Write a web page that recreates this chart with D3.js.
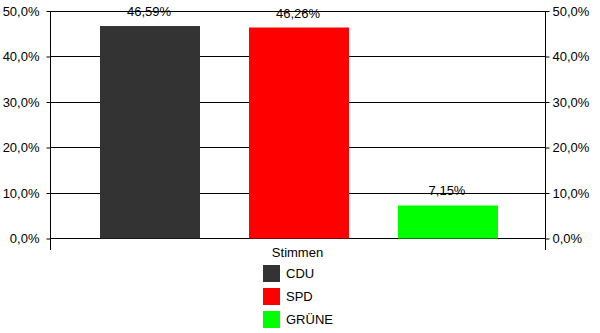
<!DOCTYPE html>
<html>
<head>
<meta charset="utf-8">
<script src="https://cdn.jsdelivr.net/npm/d3@7"></script>
<style>
html,body{margin:0;padding:0;background:#fff;}
svg{display:block;font-family:"Liberation Sans",Arial,sans-serif;}
</style>
</head>
<body>
<svg id="chart" width="600" height="333"></svg>
<script>
const categories = ["Stimmen"];
const series = ["CDU", "SPD", "GRÜNE"];
const values = [46.59, 46.26, 7.15];
const valueLabels = ["46,59%", "46,26%", "7,15%"];
const colors = ["#333333", "#ff0000", "#00ff00"];
const yTicks = [0, 10, 20, 30, 40, 50];
const yTickLabels = ["0,0%", "10,0%", "20,0%", "30,0%", "40,0%", "50,0%"];

(function () {
const svg = d3.select("#chart");
const mLeft = 50, mRight = 545, mTop = 10.5, mBottom = 238;
const fs = 13;

const y = d3.scaleLinear().domain([0, 50]).range([mBottom, mTop]);
const x = d3.scaleBand().domain(categories).range([mLeft, mRight]);
const xi = d3.scaleBand().domain(series).range([1.5, x.bandwidth() + 1.5]).paddingInner(0.329).paddingOuter(0.3255);

// gridlines
svg.append("g").selectAll("line").data(yTicks).join("line")
  .attr("x1", mLeft).attr("x2", mRight)
  .attr("y1", d => Math.round(y(d)) + 0.5).attr("y2", d => Math.round(y(d)) + 0.5)
  .attr("stroke", "#000").attr("stroke-width", 1);

// bars
const g = svg.append("g").attr("transform", `translate(${x(categories[0])},0)`);
g.selectAll("rect").data(series).join("rect")
  .attr("x", d => Math.round(xi(d)))
  .attr("width", Math.round(xi.bandwidth()))
  .attr("y", (d, i) => y(values[i]))
  .attr("height", (d, i) => y(0) - y(values[i]) + 0.5)
  .attr("fill", (d, i) => colors[i]);

// value labels
g.selectAll("text").data(series).join("text")
  .attr("x", d => xi(d) + xi.bandwidth() / 2 - 1)
  .attr("y", (d, i) => y(values[i]) - 10)
  .attr("text-anchor", "middle")
  .attr("font-size", fs)
  .attr("fill", "#000")
  .text((d, i) => valueLabels[i]);

// axes
const yAxisL = d3.axisLeft(y).tickValues(yTicks).tickSize(4).tickPadding(7).tickFormat((d, i) => yTickLabels[i]);
const yAxisR = d3.axisRight(y).tickValues(yTicks).tickSize(4).tickPadding(3).tickFormat((d, i) => yTickLabels[i]);

function styleAxis(sel) {
  sel.select(".domain").remove();
  sel.selectAll(".tick line").attr("stroke", "#000");
  sel.selectAll(".tick text").attr("font-size", fs).attr("font-family", "Liberation Sans, Arial, sans-serif").attr("fill", "#000");
}
svg.append("g").attr("transform", `translate(${mLeft + 0.5},0.5)`).call(yAxisL).call(styleAxis);
svg.append("g").attr("transform", `translate(${mRight + 0.5},0.5)`).call(yAxisR).call(styleAxis);

// vertical axis lines extending below zero
[mLeft, mRight].forEach(xx => {
  svg.append("line").attr("x1", xx + 0.5).attr("x2", xx + 0.5)
    .attr("y1", Math.round(mTop)).attr("y2", 250)
    .attr("stroke", "#000");
});

// category label
svg.append("text")
  .attr("x", x(categories[0]) + x.bandwidth() / 2)
  .attr("y", 257)
  .attr("text-anchor", "middle")
  .attr("font-size", fs)
  .text(categories[0]);

// legend
const lg = svg.append("g");
series.forEach((s, i) => {
  lg.append("rect").attr("x", 263).attr("y", 265 + i * 23).attr("width", 17).attr("height", 17).attr("fill", colors[i]);
  lg.append("text").attr("x", 286).attr("y", 278 + i * 23).attr("font-size", fs).text(s);
});
})();
</script>
</body>
</html>
